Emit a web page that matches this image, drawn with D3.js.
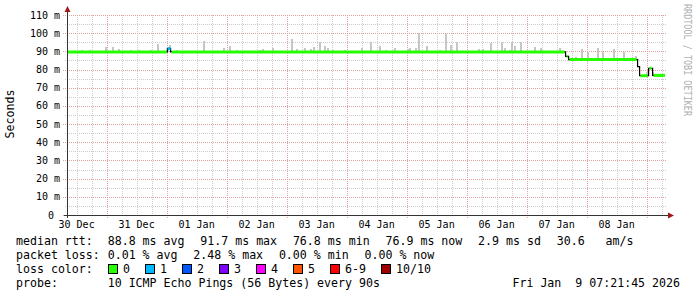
<!doctype html>
<html>
<head>
<meta charset="UTF-8">
<title>Smokeping latency</title>
<style>
  body { margin: 0; background: #fff; }
  text { font-family: "DejaVu Sans Mono", monospace; fill: #000; }
  .pre { white-space: pre; }
</style>
</head>
<body>
<div id="chart"></div>
<script src="https://cdn.jsdelivr.net/npm/d3@7"></script>
<script>
var parse = d3.timeParse("%Y-%m-%d %H:%M");

// median rtt steps (ms), with the loss class of each step
var medianTimes = ["2025-12-30 08:00", "2026-01-01 00:24", "2026-01-01 01:36", "2026-01-07 15:36",
                   "2026-01-07 16:48", "2026-01-08 20:24", "2026-01-08 21:12", "2026-01-09 00:48",
                   "2026-01-09 02:24"];
var medianValues = [89.7, 91.5, 89.7, 87.2, 85.5, 81.6, 76.6, 80.7, 76.8];
var medianLoss = [0, 1, 0, 0, 0, 0, 0, 0, 0];

// smoke: highest ping seen around a time (ms)
var smokeTimes = ["2025-12-30 14:00", "2025-12-30 17:12", "2025-12-30 23:36", "2025-12-31 02:24",
  "2025-12-31 04:48", "2025-12-31 09:36", "2025-12-31 12:48", "2025-12-31 17:36", "2025-12-31 20:24",
  "2026-01-01 00:00", "2026-01-01 01:12", "2026-01-01 04:00", "2026-01-01 15:00", "2026-01-01 22:48",
  "2026-01-02 01:12", "2026-01-02 04:00", "2026-01-02 13:12", "2026-01-02 14:24", "2026-01-02 18:24",
  "2026-01-03 02:00", "2026-01-03 04:00", "2026-01-03 07:12", "2026-01-03 09:36", "2026-01-03 10:48",
  "2026-01-03 13:12", "2026-01-03 15:12", "2026-01-03 16:24", "2026-01-03 18:24", "2026-01-03 23:12",
  "2026-01-04 06:00", "2026-01-04 09:36", "2026-01-04 13:12", "2026-01-04 15:36", "2026-01-04 19:12",
  "2026-01-05 00:24", "2026-01-05 01:12", "2026-01-05 03:36", "2026-01-05 04:48", "2026-01-05 08:00",
  "2026-01-05 13:12", "2026-01-05 15:36", "2026-01-05 17:36", "2026-01-05 20:00", "2026-01-06 04:48",
  "2026-01-06 06:24", "2026-01-06 09:36", "2026-01-06 14:00", "2026-01-06 15:12", "2026-01-06 17:12",
  "2026-01-06 18:00", "2026-01-06 19:12", "2026-01-06 21:36", "2026-01-07 03:12", "2026-01-07 05:36",
  "2026-01-07 13:12", "2026-01-07 19:36", "2026-01-07 22:00", "2026-01-08 00:24", "2026-01-08 04:24",
  "2026-01-08 06:24", "2026-01-08 10:48", "2026-01-08 14:48", "2026-01-08 19:36", "2026-01-09 00:00",
  "2026-01-09 01:12", "2026-01-09 02:24"];
var smokeMax = [90.8, 90.8, 92.4, 92.4, 91.3, 90.5, 90.5, 90.8, 93.9, 91.6, 93.5, 90.8, 95.7, 91.9,
  93.0, 90.8, 90.8, 91.3, 91.9, 96.8, 91.3, 91.9, 91.1, 92.4, 95.2, 92.9, 91.9, 90.8, 90.8, 91.9,
  95.2, 92.9, 90.8, 91.9, 91.1, 91.6, 91.9, 99.9, 92.9, 90.8, 99.6, 93.5, 95.2, 91.1, 91.1, 94.4,
  95.2, 92.1, 90.8, 95.0, 92.9, 95.0, 92.4, 91.6, 91.6, 86.7, 91.1, 89.8, 91.7, 89.8, 91.3, 89.8,
  87.4, 78.8, 78.8, 78.8];

var yTicks = [0, 10, 20, 30, 40, 50, 60, 70, 80, 90, 100, 110];

var lossLabels = ["0", "1", "2", "3", "4", "5", "6-9", "10/10"];
var lossColors = ["#26ff00", "#00b8ff", "#0059ff", "#7e00ff", "#ff00ff", "#ff5500", "#ff0000", "#a00000"];

var rttStats = ["88.8 ms avg", "91.7 ms max", "76.8 ms min", "76.9 ms now", "2.9 ms sd", "30.6   am/s"];
var lossStats = ["0.01 % avg", "2.48 % max", "0.00 % min", "0.00 % now"];
var probeText = "10 ICMP Echo Pings (56 Bytes) every 90s";
var stampText = "Fri Jan  9 07:21:45 2026";

var endTime = new Date(2026, 0, 9, 7, 21, 45);
var startTime = new Date(endTime.getTime() - 239.2 * 3600e3);

var W = 697, H = 297;
var pL = 67, pR = 665, pT = 15, pB = 215;

var svg = d3.select("#chart").append("svg")
  .attr("width", W).attr("height", H);
svg.append("rect").attr("width", W).attr("height", H).attr("fill", "#fff");

var x = d3.scaleTime().domain([startTime, endTime]).range([pL, pR]);
var y = d3.scaleLinear().domain([0, 110]).range([pB, pT]);

// grid
var grid = svg.append("g").attr("shape-rendering", "crispEdges");
x.ticks(d3.timeHour.every(6)).forEach(function(t) {
  var major = t.getHours() === 0;
  var px = Math.round(x(t)) + 0.5;
  grid.append("line")
    .attr("x1", px).attr("x2", px).attr("y1", pT).attr("y2", major ? pB + 3 : pB + 1)
    .attr("stroke", major ? "#e3a0a0" : "#cccccc")
    .attr("stroke-dasharray", "1,1");
});
d3.range(0, 111, 5).forEach(function(v) {
  var major = v % 10 === 0;
  var py = Math.round(y(v)) + 0.5;
  grid.append("line")
    .attr("x1", major ? pL - 4 : pL - 2).attr("x2", pR + 1).attr("y1", py).attr("y2", py)
    .attr("stroke", major ? "#e3a0a0" : "#cccccc")
    .attr("stroke-dasharray", "1,1");
});

// median as steps
var med = medianTimes.map(function(s, i) {
  return { t: i === 0 ? startTime : parse(s), v: medianValues[i], loss: medianLoss[i] };
});
function medianAt(t) {
  var m = med[0].v;
  med.forEach(function(d) { if (d.t <= t) m = d.v; });
  return m;
}

// smoke
svg.append("g").selectAll("rect")
  .data(smokeTimes.map(function(s, i) { return { t: parse(s), v: smokeMax[i] }; }))
  .join("rect")
  .attr("x", function(d) { return Math.round(x(d.t)) - 1; })
  .attr("width", 2)
  .attr("y", function(d) { return Math.round(y(d.v)); })
  .attr("height", function(d) { return Math.max(0, Math.round(y(medianAt(d.t))) - Math.round(y(d.v))); })
  .attr("fill", "#c6c6c6");

var stepPts = med.concat([{ t: endTime, v: med[med.length - 1].v }]);
svg.append("path")
  .attr("d", d3.line().curve(d3.curveStepAfter)
    .x(function(d) { return x(d.t); })
    .y(function(d) { return y(d.v); })(stepPts))
  .attr("fill", "none")
  .attr("stroke", "#000")
  .attr("stroke-width", 1.2);

svg.append("g").selectAll("line")
  .data(med)
  .join("line")
  .attr("x1", function(d, i) { return x(d.t) + (i > 0 && d.loss === 0 ? 1 : 0); })
  .attr("x2", function(d, i) {
    return i < med.length - 1 ? x(med[i + 1].t) - (d.loss === 0 ? 1 : 0) : x(endTime);
  })
  .attr("y1", function(d) { return y(d.v); })
  .attr("y2", function(d) { return y(d.v); })
  .attr("stroke", function(d) { return lossColors[d.loss]; })
  .attr("stroke-width", 3);

// axes
var axis = svg.append("g").attr("shape-rendering", "crispEdges");
axis.append("line").attr("x1", pL + 0.5).attr("x2", pL + 0.5).attr("y1", pB + 3).attr("y2", 9)
  .attr("stroke", "#333");
axis.append("line").attr("x1", pL - 3).attr("x2", 670).attr("y1", pB + 0.5).attr("y2", pB + 0.5)
  .attr("stroke", "#333");
svg.append("path").attr("d", "M" + (pL + 0.5) + ",6L" + (pL + 3.5) + ",12L" + (pL - 2.5) + ",12Z")
  .attr("fill", "#a01818");
svg.append("path").attr("d", "M674," + (pB + 0.5) + "L668," + (pB - 2.5) + "L668," + (pB + 3.5) + "Z")
  .attr("fill", "#a01818");

// y tick labels
svg.append("g").selectAll("text")
  .data(yTicks)
  .join("text")
  .attr("x", function(d) { return d === 0 ? 54 : 60; })
  .attr("y", function(d) { return y(d) + 3.5; })
  .attr("text-anchor", "end")
  .attr("font-size", 10)
  .text(function(d) { return d === 0 ? "0" : d + " m"; });

// day labels at noon
var noons = d3.timeDay.range(d3.timeDay.floor(startTime), endTime)
  .map(function(d) { return d3.timeHour.offset(d, 12); })
  .filter(function(d) { return d >= startTime && d <= endTime; });
svg.append("g").selectAll("text")
  .data(noons)
  .join("text")
  .attr("x", function(d) { return x(d); })
  .attr("y", 228)
  .attr("text-anchor", "middle")
  .attr("font-size", 10)
  .text(d3.timeFormat("%d %b"));

svg.append("text")
  .attr("transform", "translate(14,114) rotate(-90)")
  .attr("text-anchor", "middle")
  .attr("font-size", 11.6)
  .text("Seconds");

svg.append("text")
  .attr("transform", "translate(684,4) rotate(90)")
  .attr("font-size", 10)
  .attr("textLength", 112)
  .attr("lengthAdjust", "spacingAndGlyphs")
  .style("fill", "#b0b0b0")
  .attr("font-family", "DejaVu Sans")
  .text("RRDTOOL / TOBI OETIKER");

// legend
var CH = 7, GAP = 15.6, COL = 107.7, FS = 11.6;
function legendRow(yy, label, items) {
  svg.append("text").attr("x", 16).attr("y", yy).attr("font-size", FS).text(label);
  var cx = COL;
  items.forEach(function(s) {
    svg.append("text").attr("class", "pre").attr("x", cx).attr("y", yy).attr("font-size", FS).text(s);
    cx += s.length * CH + GAP;
  });
}
legendRow(245, "median rtt:", rttStats);
legendRow(259, "packet loss:", lossStats);

svg.append("text").attr("x", 16).attr("y", 273).attr("font-size", FS).text("loss color:");
var bx = COL;
lossLabels.forEach(function(l, i) {
  svg.append("rect").attr("x", Math.round(bx) + 0.5).attr("y", 264.5).attr("width", 9).attr("height", 9)
    .attr("fill", lossColors[i]).attr("stroke", "#000").attr("stroke-width", 1);
  svg.append("text").attr("x", bx + 15.3).attr("y", 273).attr("font-size", FS).text(l);
  bx += 15.3 + l.length * CH + 14.7;
});

svg.append("text").attr("x", 16).attr("y", 287).attr("font-size", FS).text("probe:");
svg.append("text").attr("x", COL).attr("y", 287).attr("font-size", FS).text(probeText);
svg.append("text").attr("class", "pre").attr("x", 680).attr("y", 287).attr("text-anchor", "end")
  .attr("font-size", FS).text(stampText);
</script>
</body>
</html>
